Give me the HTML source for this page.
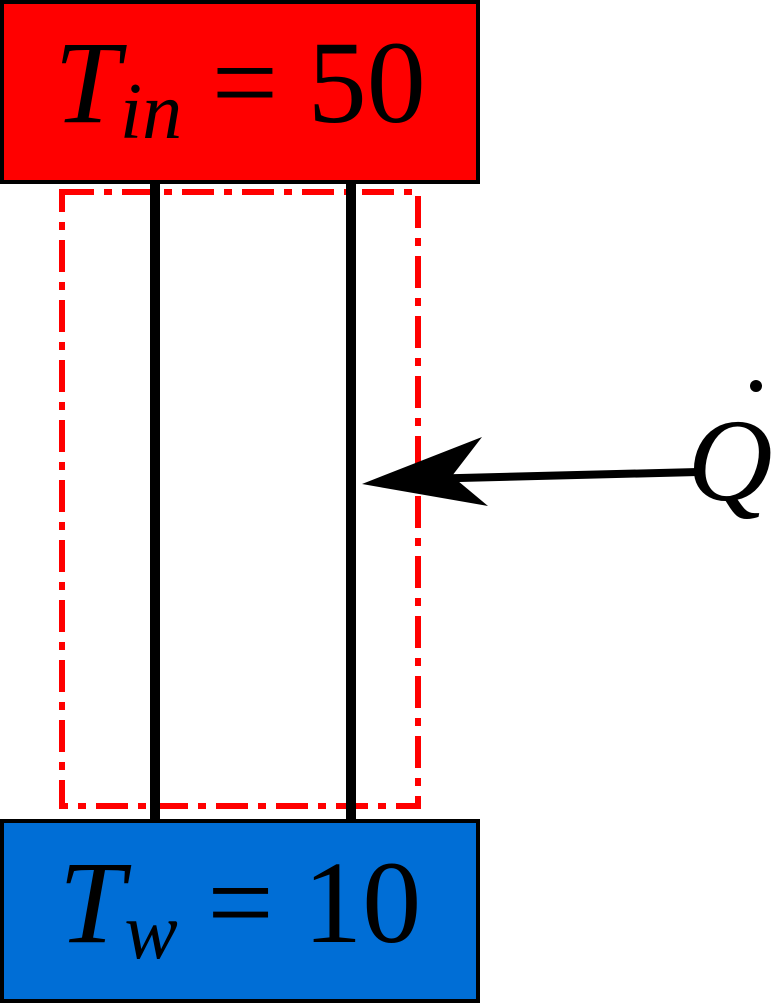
<!DOCTYPE html>
<html><head><meta charset="utf-8"><style>
html,body{margin:0;padding:0;background:#fff;}
svg{display:block;}
text{font-family:"Liberation Serif",serif;}
</style></head><body>
<svg width="784" height="1005" viewBox="0 0 784 1005">
  <rect x="2" y="2" width="476" height="180" fill="#ff0000" stroke="#000" stroke-width="4"/>
  <text x="240" y="122" font-size="118" text-anchor="middle"><tspan font-style="italic">T</tspan><tspan font-style="italic" font-size="80" dy="16">in</tspan><tspan dy="-16"> = 50</tspan></text>

  <rect x="62" y="192" width="356" height="614" fill="none" stroke="#ff0000" stroke-width="6" stroke-dasharray="32,10,8,10"/>

  <line x1="155" y1="182" x2="155" y2="822" stroke="#000" stroke-width="10"/>
  <line x1="351" y1="182" x2="351" y2="822" stroke="#000" stroke-width="10"/>

  <rect x="2" y="821" width="476" height="180" fill="#006ed6" stroke="#000" stroke-width="4"/>
  <text x="240" y="942" font-size="118" text-anchor="middle"><tspan font-style="italic">T</tspan><tspan font-style="italic" font-size="80" dy="16">w</tspan><tspan dy="-16"> = 10</tspan></text>

  <line x1="698" y1="472" x2="420" y2="479" stroke="#000" stroke-width="8"/>
  <polygon points="362,484 482,437 452,476 488,506" fill="#000"/>
  <text x="730" y="500" font-size="118" font-style="italic" text-anchor="middle">Q</text>
  <circle cx="756" cy="386" r="6" fill="#000"/>
</svg>
</body></html>
